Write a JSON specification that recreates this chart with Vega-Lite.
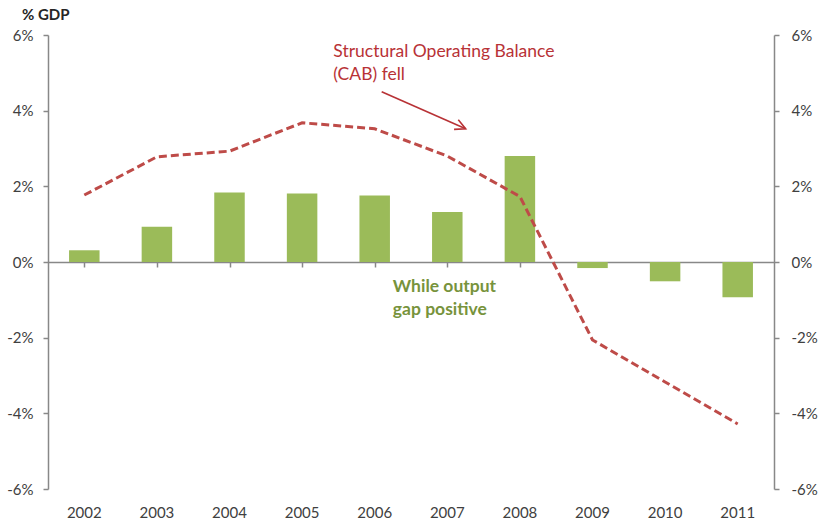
{
  "$schema": "https://vega.github.io/schema/vega-lite/v6.json",
  "width": 726,
  "height": 454,
  "autosize": {"type": "none"},
  "padding": {"left": 48, "top": 35, "right": 47, "bottom": 36},
  "background": "white",
  "config": {
    "view": {"stroke": null},
    "font": "Lato",
    "axis": {"grid": false, "labelFont": "Lato", "labelFontSize": 15, "labelColor": "#404040", "domainColor": "#888888", "tickColor": "#888888", "domainWidth": 1.5, "tickWidth": 1.5, "tickSize": 5, "title": null}
  },
  "datasets": {
    "main": [
      {"year": "2002", "gap": 0.31, "cab": 1.77},
      {"year": "2003", "gap": 0.93, "cab": 2.78},
      {"year": "2004", "gap": 1.84, "cab": 2.93},
      {"year": "2005", "gap": 1.81, "cab": 3.68},
      {"year": "2006", "gap": 1.76, "cab": 3.52},
      {"year": "2007", "gap": 1.32, "cab": 2.8},
      {"year": "2008", "gap": 2.8, "cab": 1.73},
      {"year": "2009", "gap": -0.16, "cab": -2.06},
      {"year": "2010", "gap": -0.51, "cab": -3.17},
      {"year": "2011", "gap": -0.93, "cab": -4.28}
    ]
  },
  "resolve": {"scale": {"x": "independent"}, "axis": {"x": "independent", "y": "independent"}},
  "layer": [
    {
      "data": {"name": "main"},
      "mark": {"type": "bar", "color": "#9BBB59"},
      "encoding": {
        "x": {"field": "year", "type": "nominal", "scale": {"paddingInner": 0.58, "paddingOuter": 0.29},
              "axis": {"orient": "bottom", "domain": false, "ticks": false, "labelPadding": 16, "labelAngle": 0}},
        "y": {"field": "gap", "type": "quantitative", "scale": {"domain": [-6, 6], "nice": false},
              "axis": {"orient": "left", "values": [-6, -4, -2, 0, 2, 4, 6], "labelExpr": "datum.value + '%'", "labelPadding": 10}}
      }
    },
    {
      "data": {"name": "main"},
      "mark": {"type": "line", "color": "#BE4B48", "strokeWidth": 3, "strokeDash": [8, 4]},
      "encoding": {
        "x": {"field": "year", "type": "nominal", "scale": {"paddingInner": 0.58, "paddingOuter": 0.29},
              "axis": {"orient": "bottom", "offset": -227, "labels": false, "bandPosition": 0, "domain": true, "ticks": true}},
        "y": {"field": "cab", "type": "quantitative", "scale": {"domain": [-6, 6], "nice": false},
              "axis": {"orient": "right", "values": [-6, -4, -2, 0, 2, 4, 6], "labelExpr": "datum.value + '%'", "labelPadding": 12}}
      }
    },
    {
      "layer": [
        {
          "data": {"values": [{"xpos": 2005.43, "ypos": 5.42, "label": "Structural Operating Balance\n(CAB) fell"}]},
          "mark": {"type": "text", "align": "left", "baseline": "alphabetic", "lineBreak": "\n", "lineHeight": 23, "fontSize": 17.5, "color": "#B83236"},
          "encoding": {
            "x": {"field": "xpos", "type": "quantitative", "scale": {"domain": [2001.5, 2011.5], "nice": false, "zero": false}, "axis": null},
            "y": {"field": "ypos", "type": "quantitative", "scale": {"domain": [-6, 6], "nice": false}, "axis": null},
            "text": {"field": "label"}
          }
        },
        {
          "data": {"values": [{"xpos": 2006.25, "ypos": -0.79, "label": "While output\ngap positive"}]},
          "mark": {"type": "text", "align": "left", "baseline": "alphabetic", "lineBreak": "\n", "lineHeight": 23, "fontSize": 17.5, "fontWeight": "bold", "color": "#77933C"},
          "encoding": {
            "x": {"field": "xpos", "type": "quantitative", "scale": {"domain": [2001.5, 2011.5], "nice": false, "zero": false}, "axis": null},
            "y": {"field": "ypos", "type": "quantitative", "scale": {"domain": [-6, 6], "nice": false}, "axis": null},
            "text": {"field": "label"}
          }
        },
        {
          "data": {"values": [{"xpos": 2001.142, "ypos": 6.4, "label": "% GDP"}]},
          "mark": {"type": "text", "align": "left", "baseline": "alphabetic", "fontSize": 15, "fontWeight": "bold", "color": "#262626"},
          "encoding": {
            "x": {"field": "xpos", "type": "quantitative", "scale": {"domain": [2001.5, 2011.5], "nice": false, "zero": false}, "axis": null},
            "y": {"field": "ypos", "type": "quantitative", "scale": {"domain": [-6, 6], "nice": false}, "axis": null},
            "text": {"field": "label"}
          }
        },
        {
          "data": {"values": [{"x1": 2006.096, "y1": 4.5, "x2": 2007.253, "y2": 3.52}]},
          "mark": {"type": "rule", "color": "#B83236", "strokeWidth": 1.6},
          "encoding": {
            "x": {"field": "x1", "type": "quantitative", "scale": {"domain": [2001.5, 2011.5], "nice": false, "zero": false}, "axis": null},
            "y": {"field": "y1", "type": "quantitative", "scale": {"domain": [-6, 6], "nice": false}, "axis": null},
            "x2": {"field": "x2"},
            "y2": {"field": "y2"}
          }
        },
        {
          "data": {"values": [{"x2": 2007.253, "y2": 3.52}]},
          "mark": {"type": "point", "shape": "M -1.2 -0.6 L 0 0 L -1.2 0.6", "filled": false, "stroke": "#B83236", "strokeWidth": 1.6, "size": 300, "angle": 24, "opacity": 1},
          "encoding": {
            "x": {"field": "x2", "type": "quantitative", "scale": {"domain": [2001.5, 2011.5], "nice": false, "zero": false}, "axis": null},
            "y": {"field": "y2", "type": "quantitative", "scale": {"domain": [-6, 6], "nice": false}, "axis": null}
          }
        }
      ]
    }
  ]
}
